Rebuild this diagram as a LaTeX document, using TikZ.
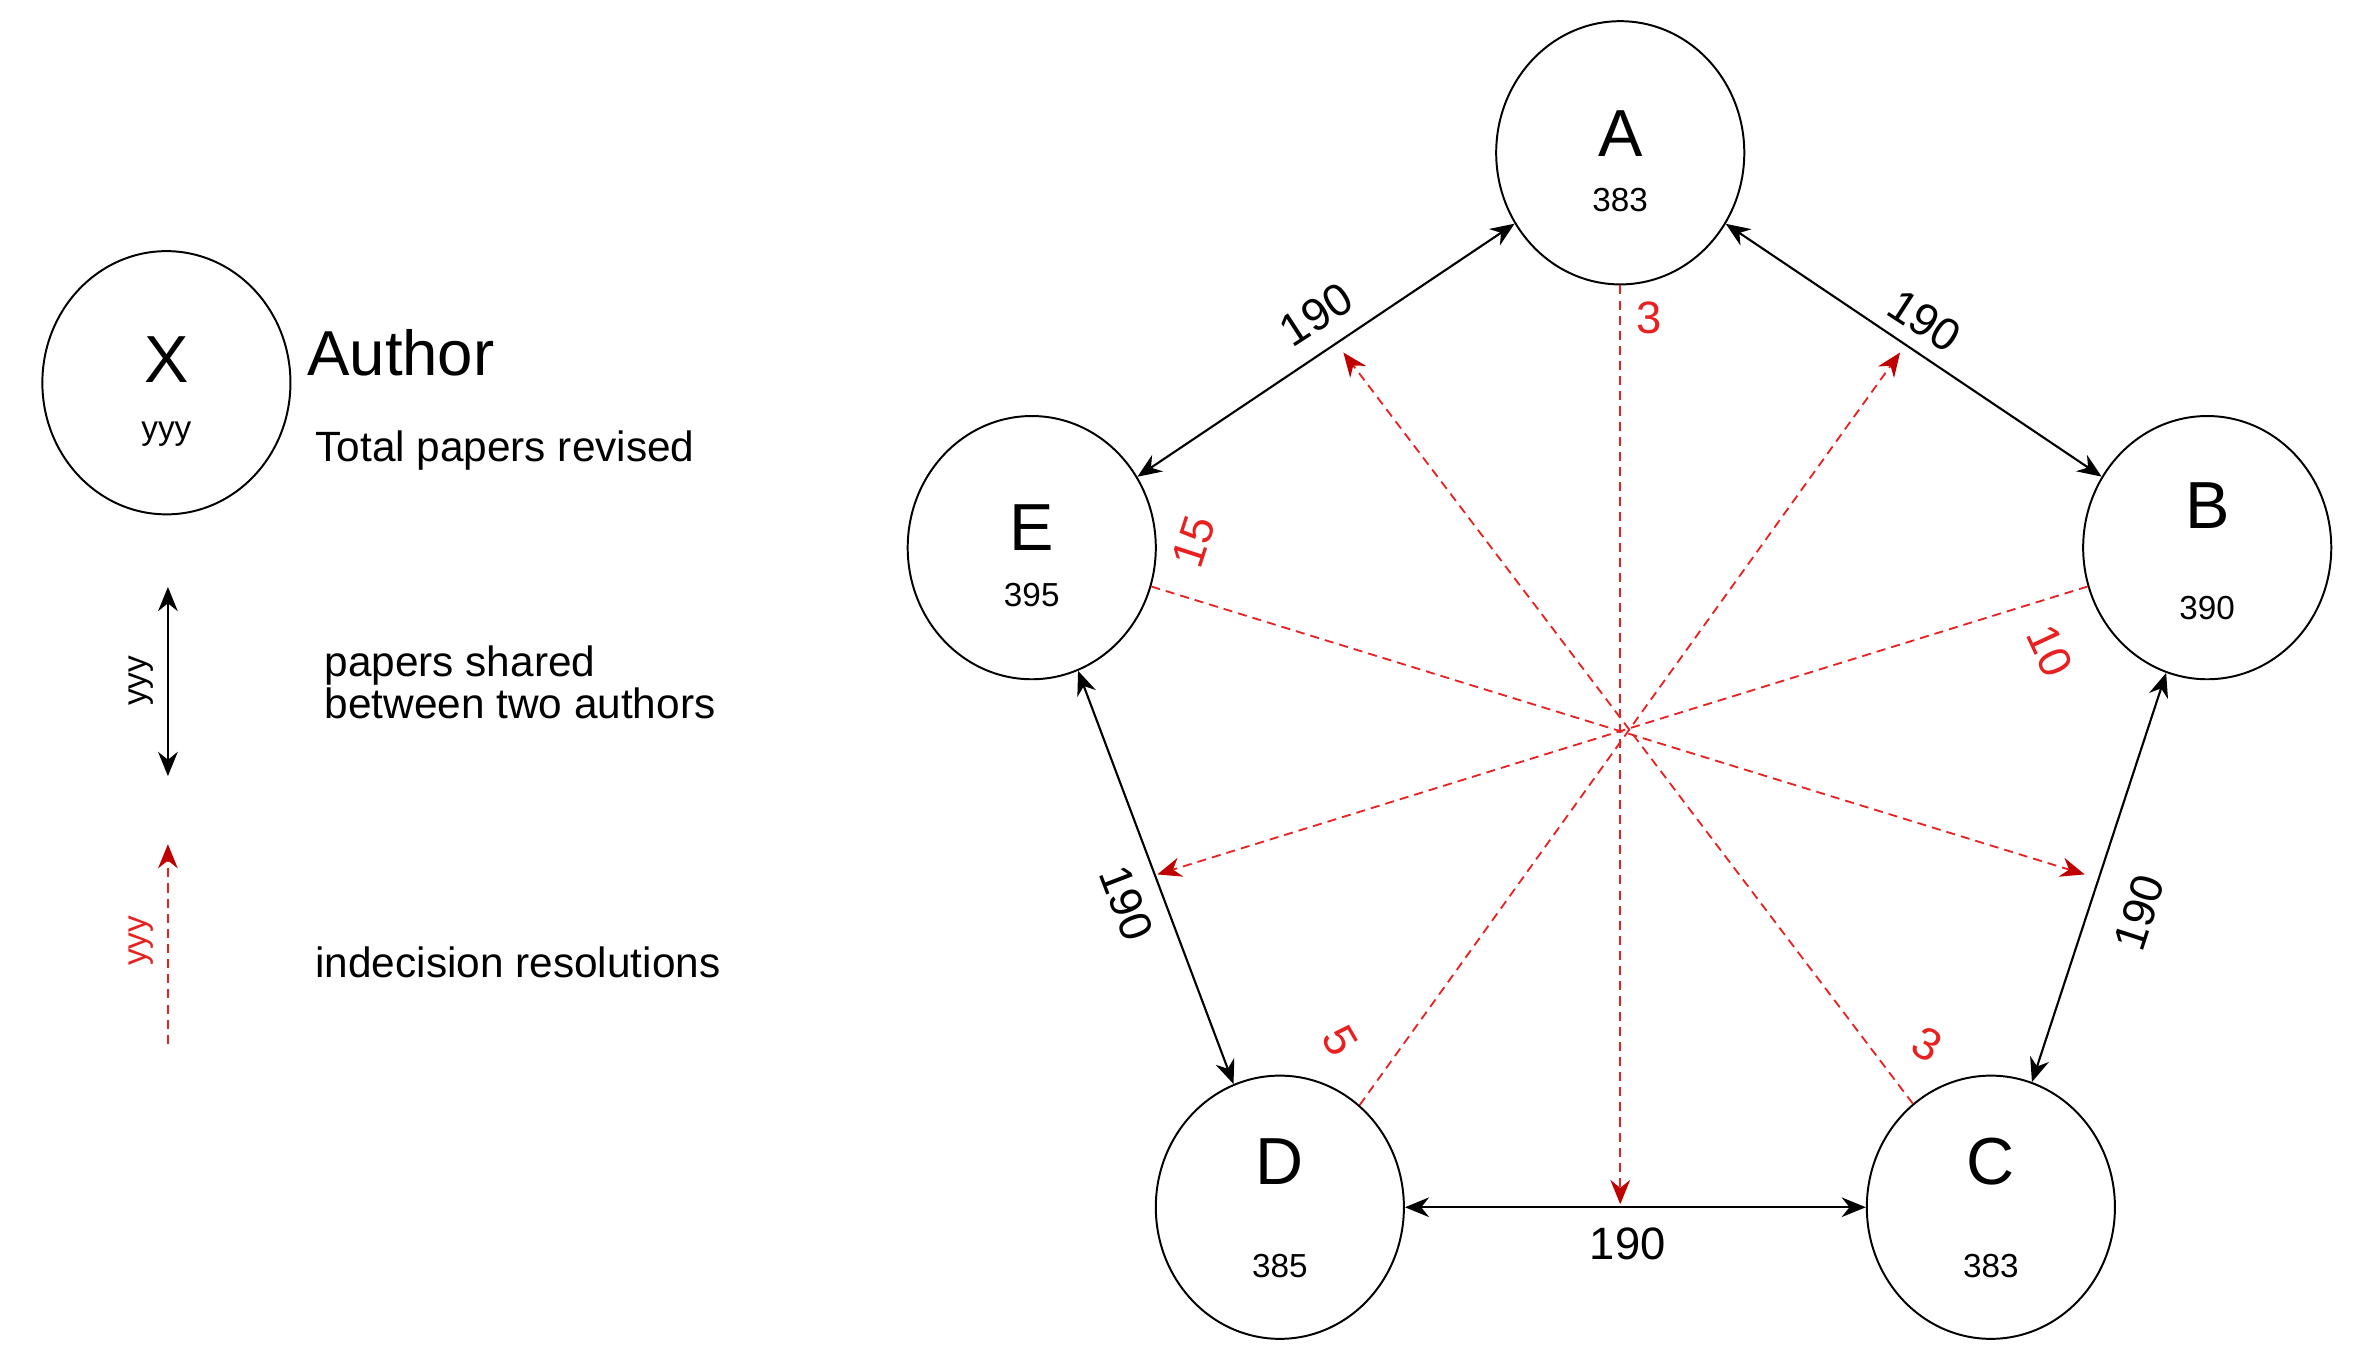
\documentclass[tikz,border=0pt]{standalone}
\usepackage{fontspec}
\setmainfont{Liberation Sans}
\usetikzlibrary{shapes.geometric,arrows.meta}
\definecolor{rl}{HTML}{E82020}
\definecolor{rh}{HTML}{C00000}
\begin{document}
\begin{tikzpicture}[x=1pt,y=-1pt,
  au/.style={draw,ellipse,line width=1.3pt,minimum width=164pt,minimum height=174pt,inner sep=0pt},
  big/.style={font=\fontsize{44}{44}\selectfont},
  sm/.style={font=\fontsize{22}{22}\selectfont},
  lab/.style={font=\fontsize{30}{30}\selectfont},
  rlab/.style={font=\fontsize{30}{30}\selectfont,text=rl},
  bl/.style={line width=1.4pt,{Stealth[length=16pt,width=13pt]}-{Stealth[length=16pt,width=13pt]}},
  rd/.style={rl,line width=1.2pt,dash pattern=on 6pt off 4pt,-{Stealth[length=16pt,width=13pt,rh,fill=rh]}},
  txt/.style={font=\fontsize{28}{28}\selectfont,anchor=west}]
\useasboundingbox (0,0) rectangle (1560,902);
% nodes
\node[au] (A) at (1071,101) {};
\node[au] (B) at (1459,362) {};
\node[au] (E) at (682,362) {};
\node[au] (D) at (846,798) {};
\node[au] (C) at (1316,798) {};
\node[au] (X) at (110,253) {};
\node[big] (tA) at (1071,88) {A};
\node[sm] (nA) at (1071,132) {383};
\node[big] (tB) at (1459,334) {B};
\node[sm] (nB) at (1459,402) {390};
\node[big] (tE) at (682,349) {E};
\node[sm] (nE) at (682,393) {395};
\node[big] (tD) at (846,768) {D};
\node[sm] (nD) at (846,837) {385};
\node[big] (tC) at (1316,768) {C};
\node[sm] (nC) at (1316,837) {383};
\node[big] (tX) at (110,238) {X};
\node[sm] (nX) at (110,287) {yyy};
% black connectors
\draw[bl] (A) -- (E);
\draw[bl] (A) -- (B);
\draw[bl] (B) -- (C);
\draw[bl] (C) -- (D);
\draw[bl] (D) -- (E);
\node[lab,rotate=33] (l1) at (870,208) {190};
\node[lab,rotate=-33] (l2) at (1272,212) {190};
\node[lab,rotate=72] (l3) at (1414,603) {190};
\node[lab,rotate=-69] (l4) at (745,597) {190};
\node[lab] (l5) at (1076,822) {190};
% red connectors
\coordinate (rA) at (1071,796);
\coordinate (rE) at (1378,578);
\coordinate (rB) at (765,578);
\coordinate (rD) at (1256,233);
\coordinate (rC) at (888,233);
\draw[rd] (A.south) -- (rA);
\draw[rd] (E.-18) -- (rE);
\draw[rd] (B.198) -- (rB);
\draw[rd] (D.52) -- (rD);
\draw[rd] (C.127) -- (rC);
\node[rlab] (r1) at (1090,210) {3};
\node[rlab,rotate=72] (r2) at (789,358) {15};
\node[rlab,rotate=-65] (r3) at (1355,430) {10};
\node[rlab,rotate=-60] (r4) at (886,688) {5};
\node[rlab,rotate=-30] (r5) at (1274,690) {3};
% legend
\node[font=\fontsize{42}{42}\selectfont] (au) at (265,233) {Author};
\node[txt] (tp) at (205,298) {Total papers revised};
\coordinate (lb1) at (111,388);
\coordinate (lb2) at (111,513);
\draw[bl] (lb1) -- (lb2);
\node[sm,rotate=90] (ly1) at (93,450) {yyy};
\node[txt,align=left] (ps) at (211,451) {papers shared\\between two authors};
\coordinate (lr1) at (111,690);
\coordinate (lr2) at (111,558);
\draw[rd] (lr1) -- (lr2);
\node[sm,rotate=90,text=rl] (ly2) at (93,622) {yyy};
\node[txt] (ir) at (205,636) {indecision resolutions};
\end{tikzpicture}
\end{document}
